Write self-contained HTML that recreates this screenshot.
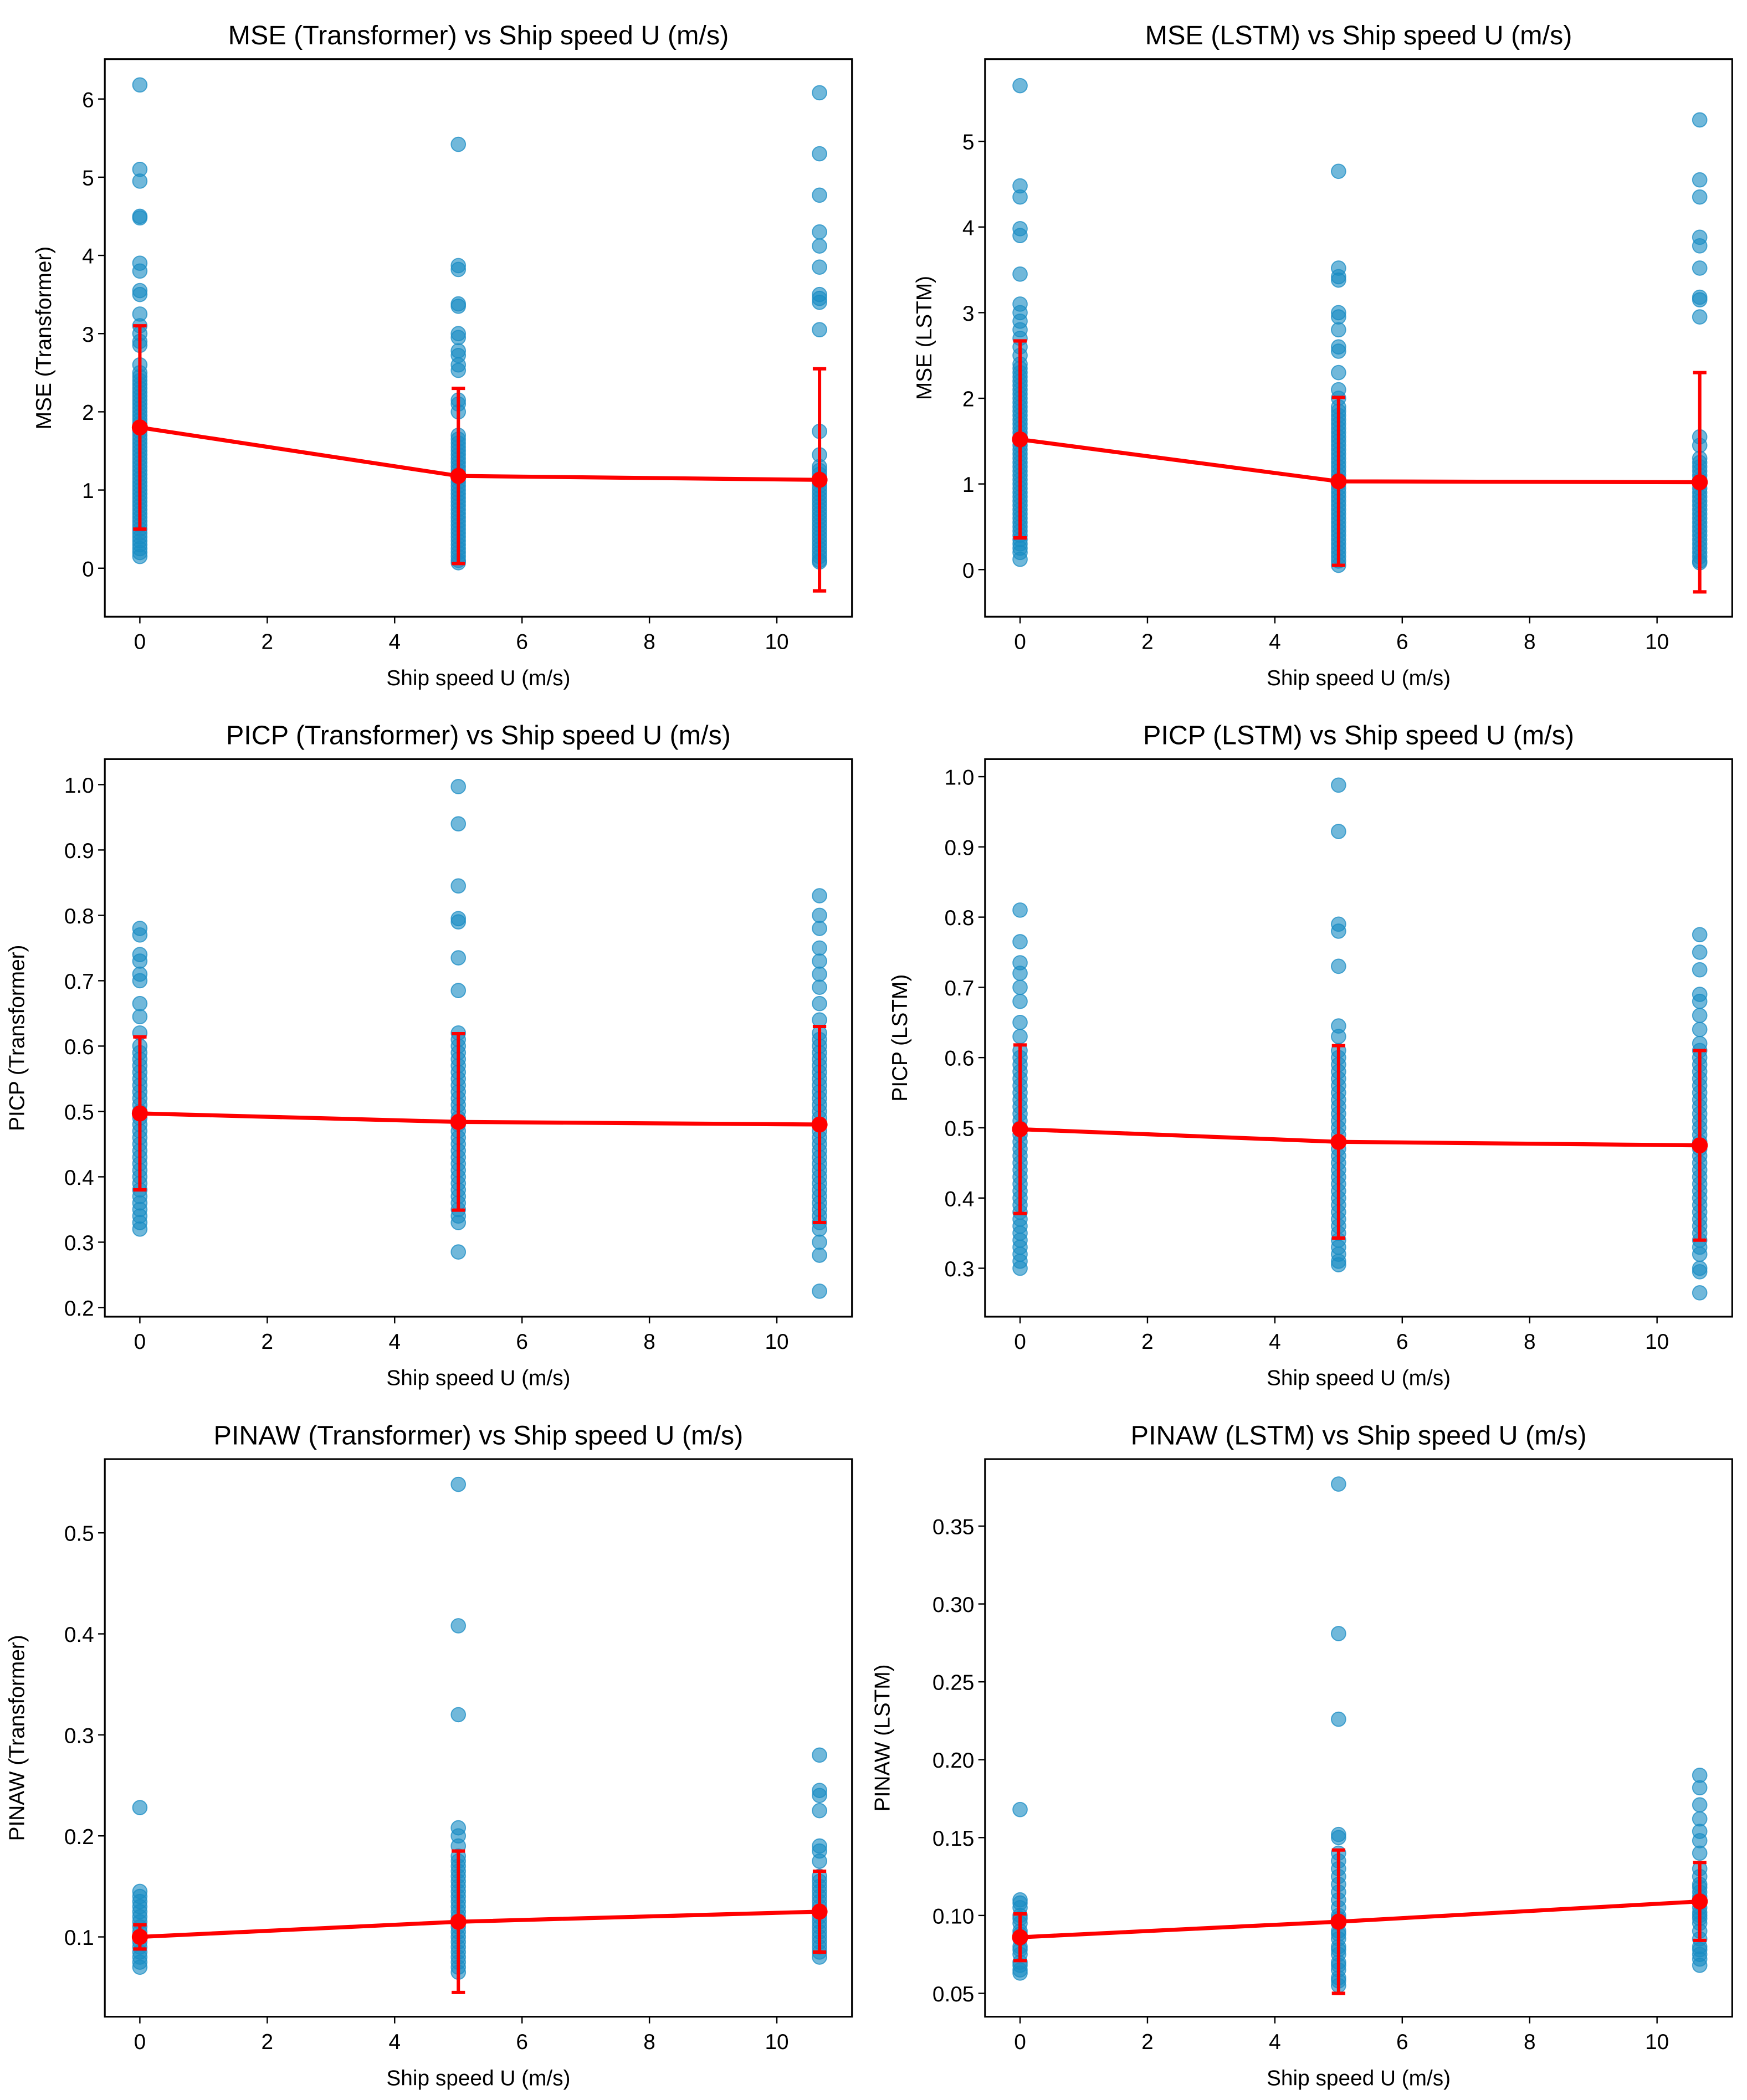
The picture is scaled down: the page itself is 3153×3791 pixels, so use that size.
<!DOCTYPE html>
<html><head><meta charset="utf-8"><style>
html,body{margin:0;padding:0;background:#fff}
svg{display:block}
text{font-family:"Liberation Sans","DejaVu Sans",sans-serif;fill:#000}
</style></head><body>
<svg id="fig" width="3153" height="3791" viewBox="0 0 1300 1563" preserveAspectRatio="none" xmlns="http://www.w3.org/2000/svg"></svg>
<script>
const speeds = [0, 5, 10.67];
const xTicks = [0, 2, 4, 6, 8, 10];

const mseTfPts0 = [6.18,5.1,4.95,4.5,4.48,3.9,3.8,3.55,3.5,3.25,3.1,3.0,2.9,2.85,2.6,2.5,2.4,2.3,2.2,2.1,2.0,1.9,1.8,1.7,1.6,1.5,1.4,1.3,1.2,1.1,1.0,0.9,0.8,0.7,0.6,0.5,0.4,0.35,0.3,0.25,0.2,0.15,2.45,2.35,2.25,2.15,2.05,1.95,1.85,1.75,1.65,1.55,1.45,1.35,1.25,1.15,1.05,0.95,0.85,0.75,0.65,0.55,0.45];
const mseTfPts1 = [5.42,3.87,3.82,3.38,3.35,3.0,2.95,2.78,2.72,2.6,2.53,2.15,2.1,2.0,1.7,1.6,1.5,1.4,1.3,1.2,1.1,1.0,0.9,0.8,0.7,0.6,0.5,0.4,0.3,0.2,0.15,0.1,0.07,1.65,1.55,1.45,1.35,1.25,1.15,1.05,0.95,0.85,0.75,0.65,0.55,0.45,0.35,0.25];
const mseTfPts2 = [6.08,5.3,4.77,4.3,4.12,3.85,3.5,3.45,3.4,3.05,1.75,1.45,1.3,1.2,1.1,1.0,0.9,0.8,0.7,0.6,0.5,0.4,0.3,0.2,0.1,0.08,1.25,1.15,1.05,0.95,0.85,0.75,0.65,0.55,0.45,0.35,0.25,0.15];
const mseTfMean = [1.8, 1.18, 1.13];
const mseTfErr = [1.3, 1.12, 1.42];

const mseLsPts0 = [5.65,4.48,4.35,3.98,3.9,3.45,3.1,3.0,2.9,2.8,2.7,2.6,2.5,2.4,2.3,2.2,2.1,2.0,1.9,1.8,1.7,1.6,1.5,1.4,1.3,1.2,1.1,1.0,0.9,0.8,0.7,0.6,0.5,0.4,0.3,0.2,0.12,2.35,2.25,2.15,2.05,1.95,1.85,1.75,1.65,1.55,1.45,1.35,1.25,1.15,1.05,0.95,0.85,0.75,0.65,0.55,0.45,0.35,0.25];
const mseLsPts1 = [4.65,3.52,3.42,3.38,3.0,2.95,2.8,2.6,2.55,2.3,2.1,2.0,1.9,1.8,1.7,1.6,1.5,1.4,1.3,1.2,1.1,1.0,0.9,0.8,0.7,0.6,0.5,0.4,0.3,0.2,0.1,0.05,1.85,1.75,1.65,1.55,1.45,1.35,1.25,1.15,1.05,0.95,0.85,0.75,0.65,0.55,0.45,0.35,0.25,0.15];
const mseLsPts2 = [5.25,4.55,4.35,3.88,3.78,3.52,3.18,3.15,2.95,1.55,1.45,1.3,1.2,1.1,1.0,0.9,0.8,0.7,0.6,0.5,0.4,0.3,0.2,0.1,0.08,1.25,1.15,1.05,0.95,0.85,0.75,0.65,0.55,0.45,0.35,0.25,0.15];
const mseLsMean = [1.52, 1.03, 1.02];
const mseLsErr = [1.15, 0.98, 1.28];

const picpTfPts0 = [0.78,0.77,0.74,0.73,0.71,0.70,0.665,0.645,0.62,0.6,0.59,0.57,0.55,0.53,0.51,0.49,0.47,0.45,0.43,0.41,0.39,0.37,0.35,0.34,0.33,0.32,0.58,0.56,0.54,0.52,0.5,0.48,0.46,0.44,0.42,0.4,0.38,0.36];
const picpTfPts1 = [0.997,0.94,0.845,0.795,0.79,0.735,0.685,0.62,0.6,0.58,0.56,0.54,0.52,0.5,0.48,0.46,0.44,0.42,0.4,0.38,0.36,0.34,0.33,0.285,0.61,0.59,0.57,0.55,0.53,0.51,0.49,0.47,0.45,0.43,0.41,0.39,0.37,0.35];
const picpTfPts2 = [0.83,0.80,0.78,0.75,0.73,0.71,0.69,0.665,0.64,0.62,0.6,0.58,0.56,0.54,0.52,0.5,0.48,0.46,0.44,0.42,0.4,0.38,0.36,0.34,0.32,0.3,0.28,0.225,0.61,0.59,0.57,0.55,0.53,0.51,0.49,0.47,0.45,0.43,0.41,0.39,0.37,0.35,0.33];
const picpTfMean = [0.497, 0.484, 0.48];
const picpTfErr = [0.117, 0.135, 0.15];

const picpLsPts0 = [0.81,0.765,0.735,0.72,0.70,0.68,0.65,0.63,0.61,0.59,0.57,0.55,0.53,0.51,0.49,0.47,0.45,0.43,0.41,0.39,0.37,0.35,0.33,0.31,0.30,0.6,0.58,0.56,0.54,0.52,0.5,0.48,0.46,0.44,0.42,0.4,0.38,0.36,0.34,0.32];
const picpLsPts1 = [0.988,0.922,0.79,0.78,0.73,0.645,0.63,0.61,0.59,0.57,0.55,0.53,0.51,0.49,0.47,0.45,0.43,0.41,0.39,0.37,0.35,0.33,0.31,0.305,0.6,0.58,0.56,0.54,0.52,0.5,0.48,0.46,0.44,0.42,0.4,0.38,0.36,0.34,0.32];
const picpLsPts2 = [0.775,0.75,0.725,0.69,0.68,0.66,0.64,0.62,0.6,0.58,0.56,0.54,0.52,0.5,0.48,0.46,0.44,0.42,0.4,0.38,0.36,0.34,0.32,0.3,0.295,0.265,0.61,0.59,0.57,0.55,0.53,0.51,0.49,0.47,0.45,0.43,0.41,0.39,0.37,0.35,0.33];
const picpLsMean = [0.498, 0.48, 0.475];
const picpLsErr = [0.12, 0.137, 0.135];

const pinTfPts0 = [0.228,0.145,0.14,0.13,0.12,0.11,0.1,0.09,0.085,0.08,0.075,0.07,0.135,0.125,0.115,0.105,0.095];
const pinTfPts1 = [0.548,0.408,0.32,0.208,0.2,0.19,0.18,0.17,0.16,0.15,0.14,0.13,0.12,0.11,0.1,0.09,0.08,0.07,0.065,0.175,0.165,0.155,0.145,0.135,0.125,0.115,0.105,0.095,0.085,0.075];
const pinTfPts2 = [0.28,0.245,0.24,0.225,0.19,0.185,0.175,0.16,0.15,0.14,0.13,0.12,0.11,0.1,0.09,0.08,0.155,0.145,0.135,0.125,0.115,0.105,0.095,0.085];
const pinTfMean = [0.1, 0.115, 0.125];
const pinTfErr = [0.012, 0.07, 0.04];

const pinLsPts0 = [0.168,0.11,0.105,0.1,0.095,0.09,0.085,0.08,0.075,0.07,0.065,0.063,0.108,0.098,0.088,0.078,0.068];
const pinLsPts1 = [0.377,0.281,0.226,0.152,0.15,0.14,0.13,0.125,0.115,0.11,0.1,0.095,0.09,0.085,0.08,0.075,0.07,0.065,0.06,0.055,0.135,0.12,0.105,0.098,0.088,0.078,0.068,0.058];
const pinLsPts2 = [0.19,0.182,0.171,0.162,0.154,0.148,0.14,0.13,0.12,0.115,0.11,0.105,0.1,0.095,0.09,0.085,0.08,0.075,0.068,0.125,0.118,0.112,0.108,0.102,0.098,0.078,0.072];
const pinLsMean = [0.086, 0.096, 0.109];
const pinLsErr = [0.015, 0.046, 0.025];

const NS = "http://www.w3.org/2000/svg";
const svg = document.getElementById('fig');
function mk(tag, attrs, parent){const e=document.createElementNS(NS,tag);for(const k in attrs)e.setAttribute(k,attrs[k]);(parent||svg).appendChild(e);return e;}

const panels = [
 {id:'mse-transformer',title:'MSE (Transformer) vs Ship speed U (m/s)',ylab:'MSE (Transformer)',L:78,T:44,yMin:-0.62,yMax:6.51,yt:[0,1,2,3,4,5,6],dec:0,pts:[mseTfPts0,mseTfPts1,mseTfPts2],mean:mseTfMean,err:mseTfErr,ylx:38},
 {id:'mse-lstm',title:'MSE (LSTM) vs Ship speed U (m/s)',ylab:'MSE (LSTM)',L:733,T:44,yMin:-0.55,yMax:5.96,yt:[0,1,2,3,4,5],dec:0,pts:[mseLsPts0,mseLsPts1,mseLsPts2],mean:mseLsMean,err:mseLsErr,ylx:693},
 {id:'picp-transformer',title:'PICP (Transformer) vs Ship speed U (m/s)',ylab:'PICP (Transformer)',L:78,T:565,yMin:0.186,yMax:1.039,yt:[0.2,0.3,0.4,0.5,0.6,0.7,0.8,0.9,1.0],dec:1,pts:[picpTfPts0,picpTfPts1,picpTfPts2],mean:picpTfMean,err:picpTfErr,ylx:18},
 {id:'picp-lstm',title:'PICP (LSTM) vs Ship speed U (m/s)',ylab:'PICP (LSTM)',L:733,T:565,yMin:0.231,yMax:1.025,yt:[0.3,0.4,0.5,0.6,0.7,0.8,0.9,1.0],dec:1,pts:[picpLsPts0,picpLsPts1,picpLsPts2],mean:picpLsMean,err:picpLsErr,ylx:675},
 {id:'pinaw-transformer',title:'PINAW (Transformer) vs Ship speed U (m/s)',ylab:'PINAW (Transformer)',L:78,T:1086,yMin:0.021,yMax:0.573,yt:[0.1,0.2,0.3,0.4,0.5],dec:1,pts:[pinTfPts0,pinTfPts1,pinTfPts2],mean:pinTfMean,err:pinTfErr,ylx:18},
 {id:'pinaw-lstm',title:'PINAW (LSTM) vs Ship speed U (m/s)',ylab:'PINAW (LSTM)',L:733,T:1086,yMin:0.035,yMax:0.393,yt:[0.05,0.10,0.15,0.20,0.25,0.30,0.35],dec:2,pts:[pinLsPts0,pinLsPts1,pinLsPts2],mean:pinLsMean,err:pinLsErr,ylx:662}
];

const W=556,H=415,xMin=-0.55,xMax=11.18;
panels.forEach(p=>{
  const g=mk('g',{});
  
  
  const sx=v=>p.L+(v-xMin)/(xMax-xMin)*W;
  const sy=v=>p.T+H-(v-p.yMin)/(p.yMax-p.yMin)*H;
  const t=mk('text',{x:p.L+W/2,y:p.T-11,'text-anchor':'middle','font-size':20},g);t.textContent=p.title;
  
  
  const sg=mk('g',{},g);
  
  
  p.pts.forEach((arr,i)=>arr.forEach(v=>{
    const c=mk('circle',{cx:sx(speeds[i]),cy:sy(v),r:5.3,fill:'#1a8cc4','fill-opacity':0.62,stroke:'#1a8cc4','stroke-opacity':0.75,'stroke-width':0.8},sg);
    
    
  }));
  const ln=mk('polyline',{points:speeds.map((s,i)=>sx(s)+','+sy(p.mean[i])).join(' '),fill:'none',stroke:'#ff0000','stroke-width':3},g);
  
  
  speeds.forEach((s,i)=>{
    const x=sx(s),y1=sy(p.mean[i]-p.err[i]),y2=sy(p.mean[i]+p.err[i]);
    const eb=mk('path',{d:`M${x},${y1}V${y2}M${x-5},${y1}H${x+5}M${x-5},${y2}H${x+5}`,stroke:'#ff0000','stroke-width':2.5,fill:'none'},g);
    
    
    const m=mk('circle',{cx:x,cy:sy(p.mean[i]),r:6,fill:'#ff0000'},g);
    
    
  });
  const fr=mk('rect',{x:p.L,y:p.T,width:W,height:H,fill:'none',stroke:'#000','stroke-width':1.3},g);
  
  
  xTicks.forEach(v=>{
    const x=sx(v);
    mk('line',{x1:x,x2:x,y1:p.T+H,y2:p.T+H+5,stroke:'#000','stroke-width':1},g);
    const tl=mk('text',{x:x,y:p.T+H+24,'text-anchor':'middle','font-size':16},g);tl.textContent=v;
    
    
  });
  p.yt.forEach(v=>{
    const y=sy(v);
    mk('line',{x1:p.L-5,x2:p.L,y1:y,y2:y,stroke:'#000','stroke-width':1},g);
    const tl=mk('text',{x:p.L-8,y:y+6,'text-anchor':'end','font-size':16},g);tl.textContent=v.toFixed(p.dec);
    
    
  });
  const xl=mk('text',{x:p.L+W/2,y:p.T+H+51,'text-anchor':'middle','font-size':16},g);xl.textContent='Ship speed U (m/s)';
  
  
  const yc=p.T+H/2;
  const yl=mk('text',{x:p.ylx,y:yc,'text-anchor':'middle','font-size':16,transform:`rotate(-90 ${p.ylx} ${yc})`},g);yl.textContent=p.ylab;
  
  
});
</script>
</body></html>
